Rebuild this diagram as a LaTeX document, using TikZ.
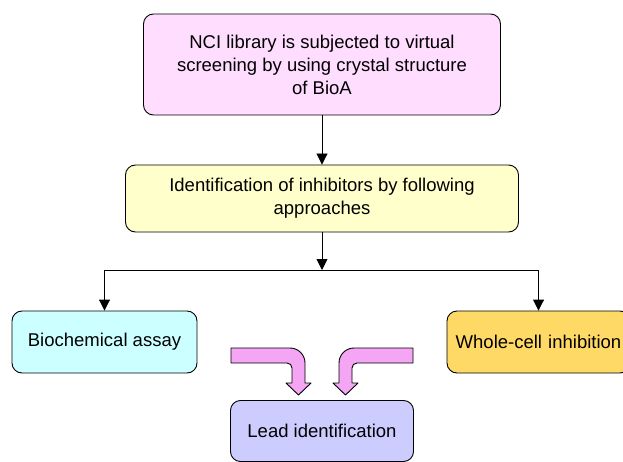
\documentclass[tikz,border=0pt]{standalone}
\usepackage{fontspec}
\setmainfont{Liberation Sans}
\usetikzlibrary{arrows.meta}
\definecolor{toppink}{HTML}{FFDDFF}
\definecolor{midyel}{HTML}{FFFFCC}
\definecolor{biocyan}{HTML}{CCFFFF}
\definecolor{wholeor}{HTML}{FFD966}
\definecolor{leadlav}{HTML}{CCCCFF}
\definecolor{arrpink}{HTML}{F4A6F4}
\begin{document}
\begin{tikzpicture}[x=1pt,y=-1pt,
  box/.style={draw=black,line width=0.9pt,rounded corners=10pt,align=center,
    inner sep=0pt,font=\fontsize{18.5}{23}\selectfont},
  conn/.style={line width=0.9pt,-{Triangle[length=11pt,width=11pt]}},
  bent/.style={draw=black,line width=0.9pt,fill=arrpink,line join=round}]
\useasboundingbox (0,0) rectangle (623,462);
\node[box,fill=toppink,minimum width=357pt,minimum height=101pt] (top) at (322,64.5)
  {NCI library is subjected to virtual\\screening by using crystal structure\\of BioA};
\node[box,fill=midyel,minimum width=393pt,minimum height=67pt] (mid) at (322,198.5)
  {Identification of inhibitors by following\\approaches};
\node[box,fill=biocyan,minimum width=185pt,minimum height=62pt] (bio) at (104.5,342)
  {Biochemical assay};
\node[box,fill=wholeor,minimum width=183pt,minimum height=62pt,text width=183pt] (whole) at (538.5,342)
  {Whole-cell inhibition};
\node[box,fill=leadlav,minimum width=183pt,minimum height=61pt] (lead) at (322,431)
  {Lead identification};
\coordinate (split) at (322,270);
\draw[conn] (top.south) -- (mid.north);
\draw[conn] (mid.south) -- (split);
\draw[conn] (split) -| (bio.north);
\draw[conn] (split) -| (whole.north);
\path[bent] (231,348) -- (290,348) .. controls (298.3,348) and (305,354.7) .. (305,363)
  -- (305,383) -- (311,383) -- (298.5,395) -- (286,383) -- (292,383) -- (292,368)
  .. controls (292,365.2) and (289.8,363) .. (287,363) -- (231,363) -- cycle;
\path[bent] (413,348) -- (354,348) .. controls (345.7,348) and (339,354.7) .. (339,363)
  -- (339,383) -- (333,383) -- (345.5,395) -- (358,383) -- (352,383) -- (352,368)
  .. controls (352,365.2) and (354.2,363) .. (357,363) -- (413,363) -- cycle;
\end{tikzpicture}
\end{document}
